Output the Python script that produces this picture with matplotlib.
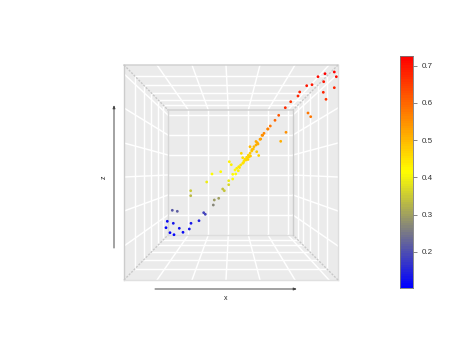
import matplotlib
matplotlib.use('Agg')
import matplotlib.pyplot as plt
import numpy as np
from matplotlib.colors import LinearSegmentedColormap

plt.rcParams['font.family'] = ['Liberation Sans', 'DejaVu Sans']

# points
pt_x = [167.3, 173.3, 166, 179.3, 170, 174, 183, 189.3, 191, 199, 203.7, 205.3, 172.3, 177.3,
        213.3, 214.3, 218.7, 222.7, 224.3, 190.7, 190.7, 206.7, 212, 220.7, 228.7, 228.7,
        232.7, 229.3, 231.3, 235.7, 232.7, 235, 236.7, 238.3, 238.7, 240.7, 242.7, 241.3, 242.7,
        245, 246.7, 248.3, 250, 251.7, 253.3, 250, 254, 256, 256.7, 258, 258.7, 260, 256, 257.3,
        260.7, 262, 262.7, 264, 267.7, 268, 270.3, 275, 278.7, 280.7, 286, 285.3, 290.7,
        298, 299.7, 306.7, 308, 310.7, 312, 318, 323.3, 323.7, 325, 326, 334.3, 334.3, 336.3,
        244, 247, 249, 252, 243.5, 246, 239.5, 248, 250.5]
pt_z = [221.3, 223.3, 227.7, 228.3, 232.7, 234.7, 232.3, 229, 223.3, 220.7, 212.7, 214.3, 210.3, 211.3,
        205, 200, 198.3, 189, 190.7, 190.7, 195.7, 182, 174, 171.7, 180.7, 184.7,
        179, 161.7, 164.7, 174, 174.3, 170, 168.3, 170.7, 166.7, 165, 163.3, 153.3, 157.7,
        159.3, 157.3, 155.3, 153.3, 151, 149, 146.7, 146.7, 141.5, 151.7, 144, 155.5, 139.3, 145, 142.7,
        139, 135.3, 135.3, 133.3, 129, 129, 126, 120.3, 115.3, 141.3, 132.3, 107.7, 101.7,
        96, 92, 85.7, 113, 116.7, 84.7, 76.7, 92.3, 81.7, 73.7, 99.3, 72, 87.7, 76.7,
        161, 158.5, 157, 149.5, 162.5, 160, 167.5, 159.5, 156]
pt_val = [.12, .13, .11, .13, .11, .11, .12, .13, .13, .15, .19, .19, .21, .22,
          .27, .29, .30, .34, .34, .35, .33, .39, .41, .42, .39, .37,
          .41, .43, .43, .42, .42, .42, .43, .43, .44, .45, .45, .46, .45,
          .46, .47, .47, .48, .48, .49, .50, .50, .52, .48, .51, .47, .53, .51, .52,
          .53, .55, .55, .56, .57, .57, .58, .60, .62, .51, .55, .67, .66,
          .68, .68, .70, .58, .58, .70, .71, .68, .70, .72, .66, .72, .68, .71,
          .45, .46, .47, .49, .45, .46, .44, .47, .48]

# colourbar
bar_lo = 0.103
bar_hi = 0.726
bar_ticks = [0.2, 0.3, 0.4, 0.5, 0.6, 0.7]

W, H = 464, 359
cmap = LinearSegmentedColormap.from_list('byr', ['#0000ff', '#ffff00', '#ff0000'], N=100)

fig = plt.figure(figsize=(4.64, 3.59), dpi=100)
ax = fig.add_axes([0, 0, 1, 1])
ax.set_xlim(0, W)
ax.set_ylim(H, 0)
ax.axis('off')

# box, outer and back wall
ox0, ox1, oy0, oy1 = 124, 338, 65, 280
bx0, bx1, by0, by1 = 168, 293, 110, 235
ax.fill([ox0, ox1, ox1, ox0], [oy0, oy0, oy1, oy1], color='#ebebeb', lw=0, zorder=1)

back_x = [188.3, 208.3, 228.3, 248.3, 268, 288]
front_x = [157, 192, 226, 260, 295, 329]
back_y = [115, 135, 155, 175, 195, 215]
front_y = [74, 108, 143, 177, 211, 246]
depth = [0.24, 0.45, 0.62, 0.77, 0.89]
lw = 1.05

for x in back_x:
    ax.plot([x, x], [by0, by1], color='white', lw=lw, zorder=2)
for y in back_y:
    ax.plot([bx0, bx1], [y, y], color='white', lw=lw, zorder=2)
for xb, xf in zip(back_x, front_x):
    ax.plot([xf, xb], [oy0, by0], color='white', lw=lw, zorder=2)
    ax.plot([xf, xb], [oy1, by1], color='white', lw=lw, zorder=2)
for yb, yf in zip(back_y, front_y):
    ax.plot([ox0, bx0], [yf, yb], color='white', lw=lw, zorder=2)
    ax.plot([ox1, bx1], [yf, yb], color='white', lw=lw, zorder=2)
for d in depth:
    xl = ox0 + d * (bx0 - ox0)
    xr = ox1 + d * (bx1 - ox1)
    yt = oy0 + d * (by0 - oy0)
    yb = oy1 + d * (by1 - oy1)
    ax.plot([xl, xr], [yt, yt], color='white', lw=lw, zorder=2)
    ax.plot([xl, xr], [yb, yb], color='white', lw=lw, zorder=2)
    ax.plot([xl, xl], [yt, yb], color='white', lw=lw, zorder=2)
    ax.plot([xr, xr], [yt, yb], color='white', lw=lw, zorder=2)

# box edges
ax.plot([ox0, ox1], [oy0, oy0], color='#d2d2d2', lw=1.1, zorder=3)
ax.plot([ox0, ox0], [oy0, oy1], color='#cccccc', lw=1.0, zorder=3)
ax.plot([ox1, ox1], [oy0, oy1], color='#dddddd', lw=1.0, zorder=3)
ax.plot([ox0, ox1], [oy1, oy1], color='#e0e0e0', lw=1.0, zorder=3)
ax.plot([bx0, bx1], [by0, by0], color='#d2d2d2', lw=1.1, zorder=3)
ax.plot([bx0, bx0], [by0, by1], color='#d6d6d6', lw=1.0, zorder=3)
ax.plot([bx1, bx1], [by0, by1], color='#cccccc', lw=1.0, zorder=3)
ax.plot([bx0, bx1], [by1, by1], color='#dddddd', lw=1.0, zorder=3)
for a, b in [((ox0, oy0), (bx0, by0)), ((ox1, oy0), (bx1, by0)),
             ((ox0, oy1), (bx0, by1)), ((ox1, oy1), (bx1, by1))]:
    ax.plot([a[0], b[0]], [a[1], b[1]], color='#c8c8c8', lw=1.0,
            ls=(0, (1.5, 1.0)), zorder=3)

ax.scatter(pt_x, pt_z, c=pt_val, cmap=cmap, vmin=bar_lo, vmax=bar_hi,
           s=4, linewidths=0, zorder=5)

# axis arrows
ax.annotate('', xy=(114, 105), xytext=(114, 248),
            arrowprops=dict(arrowstyle='-|>,head_width=0.07,head_length=0.18', color='#444444', lw=0.7,
                            shrinkA=0, shrinkB=0))
ax.annotate('', xy=(297, 289), xytext=(155, 289),
            arrowprops=dict(arrowstyle='-|>,head_width=0.07,head_length=0.18', color='#444444', lw=0.7,
                            shrinkA=0, shrinkB=0))
ax.text(104, 177, 'z', rotation=90, fontsize=5, ha='center', va='center', color='#222222')
ax.text(226, 298, 'x', fontsize=5, ha='center', va='center', color='#222222')

# colourbar
cax = fig.add_axes([400 / W, 1 - 288 / H, 13.5 / W, 232 / H])
levels = np.linspace(bar_lo, bar_hi, 101)
cax.pcolormesh([0, 1], levels, (levels[:-1] + levels[1:]).reshape(-1, 1) / 2,
               cmap=cmap, vmin=bar_lo, vmax=bar_hi)
cax.set_ylim(bar_lo, bar_hi)
cax.set_xticks([])
cax.yaxis.tick_right()
cax.set_yticks(bar_ticks)
cax.set_yticklabels(['%.1f' % t for t in bar_ticks])
cax.tick_params(axis='y', length=3, width=0.5, color='#555555', labelsize=5.8, pad=3, labelcolor='#333333')
for s in cax.spines.values():
    s.set_linewidth(0.6)
    s.set_color('#777777')

fig.savefig('out.png', dpi=100)
